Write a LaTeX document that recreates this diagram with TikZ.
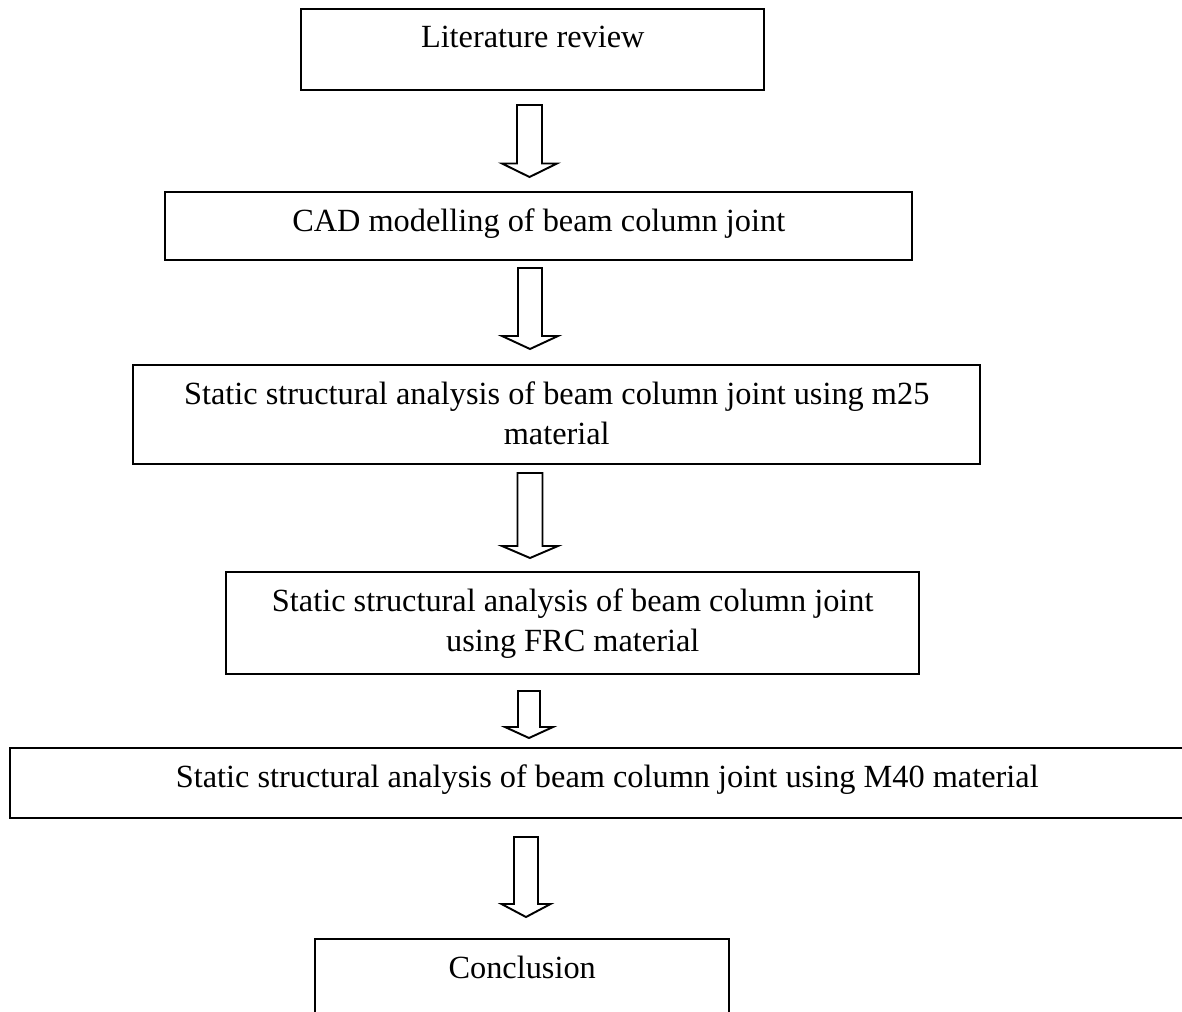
\documentclass[tikz,border=0pt]{standalone}
\usepackage{fontspec}
\setmainfont{Liberation Serif}
\usetikzlibrary{positioning}

% block arrow: centre x, shaft top, head start, tip, half shaft, half head
\newcommand{\flowarrow}[6]{%
  \draw [line width=1.1] (#1-#5,#2) -- (#1+#5,#2) -- (#1+#5,#3) -- (#1+#6,#3)
    -- (#1,#4) -- (#1-#6,#3) -- (#1-#5,#3) -- cycle;}

\tikzset{
  box/.style={draw, line width=1.4, rectangle, inner sep=0pt, anchor=north west},
  boxtext/.style={inner sep=0pt, align=center, font=\fontsize{18.4}{22.7}\selectfont}
}

\begin{document}
\begin{tikzpicture}[x=0.02cm, y=-0.02cm]
  \useasboundingbox (0,0) rectangle (1182,1011);

\node [box, minimum width=463*0.02cm, minimum height=81*0.02cm] (lit) at (300,8) {};
\node [boxtext, below=0.35cm of lit.north] (littext) {Literature review};

\node [box, minimum width=747*0.02cm, minimum height=68*0.02cm] (cad) at (164,191) {};
\node [boxtext, below=0.35cm of cad.north] (cadtext) {CAD modelling of beam column joint};

\node [box, minimum width=847*0.02cm, minimum height=99*0.02cm] (mtf) at (132,364) {};
\node [boxtext, below=0.35cm of mtf.north] (mtftext) {Static structural analysis of beam column joint using m25\\material};

\node [box, minimum width=693*0.02cm, minimum height=102*0.02cm] (frc) at (225,571) {};
\node [boxtext, below=0.35cm of frc.north] (frctext) {Static structural analysis of beam column joint\\using FRC material};

\node [box, minimum width=1194*0.02cm, minimum height=70*0.02cm] (mfo) at (9,747) {};
\node [boxtext, below=0.35cm of mfo.north] (mfotext) {Static structural analysis of beam column joint using M40 material};

\node [box, minimum width=414*0.02cm, minimum height=100*0.02cm] (con) at (314,938) {};
\node [boxtext, below=0.35cm of con.north] (context) {Conclusion};

\flowarrow{529.5}{105}{163.5}{177}{12.5}{27.5}
\flowarrow{530}{268}{336}{349}{12}{28}
\flowarrow{530}{473}{546}{558}{12.5}{28}
\flowarrow{529}{691}{727}{738}{11}{24}
\flowarrow{526}{837}{904}{917}{12}{24.5}

\end{tikzpicture}
\end{document}
